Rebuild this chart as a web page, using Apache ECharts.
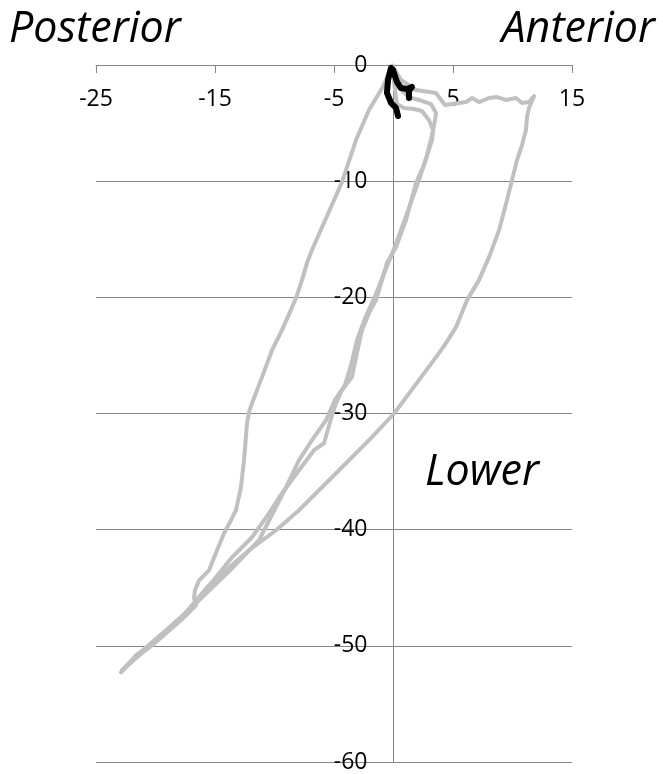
<!DOCTYPE html>
<html>
<head>
<meta charset="utf-8">
<script src="https://cdn.jsdelivr.net/npm/echarts@6/dist/echarts.min.js"></script>
<style>
  html, body { margin: 0; padding: 0; background: #fff; }
  #chart { width: 663px; height: 774px; }
</style>
</head>
<body>
<div id="chart"></div>
<script>
// Axis ticks
const xTicks = [-25, -15, -5, 5, 15];
const yTicks = [0, -10, -20, -30, -40, -50, -60];

// Outer loop: out to the anterior plateau, down the right limb, back up the posterior limb
const outerLoop = [
  [-0.1, -0.05], [0.63, -1.29], [1.89, -2.15], [3.57, -2.41], [4.0, -3.01], [4.33, -3.45],
  [5.5, -3.27], [6.09, -3.19], [6.6, -2.84], [7.18, -3.19], [8.03, -2.84], [8.7, -2.76],
  [9.45, -3.01], [10.29, -2.84], [10.8, -3.27], [11.39, -3.19], [11.81, -2.67],
  [11.39, -3.70], [11.22, -4.48], [11.13, -5.60], [10.8, -6.89], [10.38, -8.18],
  [9.96, -9.91], [9.54, -11.63], [9.03, -13.61], [8.87, -14.21], [8.03, -16.54],
  [7.18, -18.52], [6.18, -20.24], [5.25, -22.57], [4.41, -23.94], [3.82, -24.8],
  [2.14, -27.13], [0.05, -30.0], [-1.81, -32.04], [-3.99, -34.28], [-6.26, -36.61],
  [-7.94, -38.33], [-9.87, -40.05], [-12.14, -41.77], [-14.08, -43.5], [-15.5, -44.8],
  [-16.6, -46.1], [-17.77, -47.55], [-20.29, -49.78], [-21.64, -50.82], [-22.9, -52.28],
  [-21.64, -50.99], [-20.29, -49.96], [-17.77, -47.72], [-16.6, -46.51], [-16.76, -45.91],
  [-16.68, -45.22], [-16.34, -44.36], [-15.5, -43.5], [-14.83, -41.77], [-14.24, -40.31],
  [-13.66, -39.19], [-13.24, -38.33], [-12.82, -36.35], [-12.56, -34.02], [-12.31, -30.84],
  [-12.14, -29.89], [-11.89, -29.11], [-11.05, -26.87], [-10.21, -24.55], [-9.37, -22.82],
  [-8.19, -20.07], [-7.69, -18.52], [-7.27, -17.05], [-6.85, -15.93], [-4.33, -10.08],
  [-3.15, -6.46], [-2.06, -3.88], [-0.8, -1.72], [-0.21, -0.17]
];

// Middle loop, descending branch
const middleDown = [
  [-0.13, -0.09], [0.13, -2.15], [0.29, -3.36], [0.88, -3.70], [1.72, -3.79], [2.39, -3.96],
  [2.98, -4.74], [3.32, -5.6], [3.24, -6.46], [2.56, -8.61], [1.89, -10.16], [1.05, -13.35],
  [0.21, -15.68], [-0.55, -17.05], [-0.97, -18.52], [-1.47, -20.24], [-2.06, -21.36],
  [-2.65, -22.83], [-3.15, -25.15], [-3.49, -26.87], [-4.33, -27.99], [-4.83, -29.11],
  [-5.17, -30.15], [-5.84, -32.56], [-6.68, -33.16], [-7.94, -34.88], [-9.37, -36.86],
  [-10.46, -38.59], [-11.89, -40.65], [-13.57, -42.38], [-14.92, -44.1], [-16.6, -46.17],
  [-17.77, -47.46], [-20.29, -49.7], [-21.64, -50.9], [-22.82, -52.11]
];

// Middle loop, returning branch
const middleUp = [
  [-22.82, -52.11], [-20.29, -49.87], [-16.6, -46.34], [-13.82, -43.58], [-11.3, -40.91],
  [-9.03, -36.35], [-7.94, -34.02], [-6.85, -32.3], [-5.67, -30.58], [-4.92, -28.85],
  [-4.08, -27.56], [-3.57, -25.84], [-3.07, -23.69], [-2.39, -21.79], [-1.55, -19.9],
  [-0.88, -18.17], [-0.13, -16.28], [0.63, -14.21], [1.39, -12.06], [2.14, -9.91],
  [2.82, -7.75], [3.24, -6.03], [3.49, -4.74], [3.57, -4.13], [3.15, -3.36], [2.14, -3.01],
  [1.30, -2.76], [0.46, -1.98], [-0.04, -0.6], [-0.13, -0.09]
];

// Short dark trace at the origin
const darkTrace = [
  [0.38, -4.39], [0.21, -3.70], [-0.21, -3.27], [-0.55, -2.41], [-0.46, -1.29], [-0.21, -0.26],
  [-0.04, -0.43], [0.29, -1.46], [0.63, -1.98], [1.13, -2.07], [1.55, -1.89], [1.30, -2.24],
  [1.30, -2.84]
];

const X_MIN = -25, X_MAX = 15;
const GRID = { left: 96, right: 91, top: 65, bottom: 12 };
const CHART_W = 663;

const grayStyle = { color: '#c0c0c0', width: 4, cap: 'round', join: 'round' };
const labelFont = '"Open Sans", Lato, sans-serif';
const titleFont = 'italic 43px "Open Sans", Lato, sans-serif';

// horizontal pixel distance from the grid's left edge to x = 0, so the value axis sits on it
const plotW = CHART_W - GRID.left - GRID.right;
const zeroOffset = plotW * (0 - X_MIN) / (X_MAX - X_MIN);

function path(data, style) {
  return {
    type: 'line', data: data, showSymbol: false, symbol: 'none',
    lineStyle: style, silent: true, animation: false
  };
}

const chart = echarts.init(document.getElementById('chart'), null, { renderer: 'canvas' });
chart.setOption({
  animation: false,
  grid: Object.assign({ containLabel: false }, GRID),
  xAxis: {
    type: 'value', position: 'top', min: X_MIN, max: X_MAX, interval: 10,
    axisLine: { show: true, onZero: false, lineStyle: { color: '#868686', width: 1 } },
    axisTick: { show: true, inside: true, length: 8, lineStyle: { color: '#868686' } },
    axisLabel: {
      inside: true, margin: 23, color: '#000', fontSize: 23, fontFamily: labelFont,
      customValues: xTicks
    },
    splitLine: { show: false }
  },
  yAxis: {
    type: 'value', min: -60, max: 0, interval: 10, position: 'left', offset: -zeroOffset,
    axisLine: { show: true, onZero: false, lineStyle: { color: '#868686', width: 1 } },
    axisTick: { show: true, length: 8, lineStyle: { color: '#868686' } },
    axisLabel: { margin: 26, color: '#000', fontSize: 23, fontFamily: labelFont,
      customValues: yTicks },
    splitLine: { show: true, lineStyle: { color: '#868686', width: 1 } }
  },
  series: [
    path(outerLoop, grayStyle),
    path(middleDown, grayStyle),
    path(middleUp, grayStyle),
    path(darkTrace, { color: '#000', width: 6, cap: 'round', join: 'round' })
  ],
  graphic: [
    { type: 'text', left: 9, top: 8, style: { text: 'Posterior', fill: '#000', font: titleFont } },
    { type: 'text', right: 8, top: 8, style: { text: 'Anterior', fill: '#000', font: titleFont } },
    { type: 'text', left: 425, top: 451, style: { text: 'Lower', fill: '#000', font: titleFont } }
  ]
});
</script>
</body>
</html>
